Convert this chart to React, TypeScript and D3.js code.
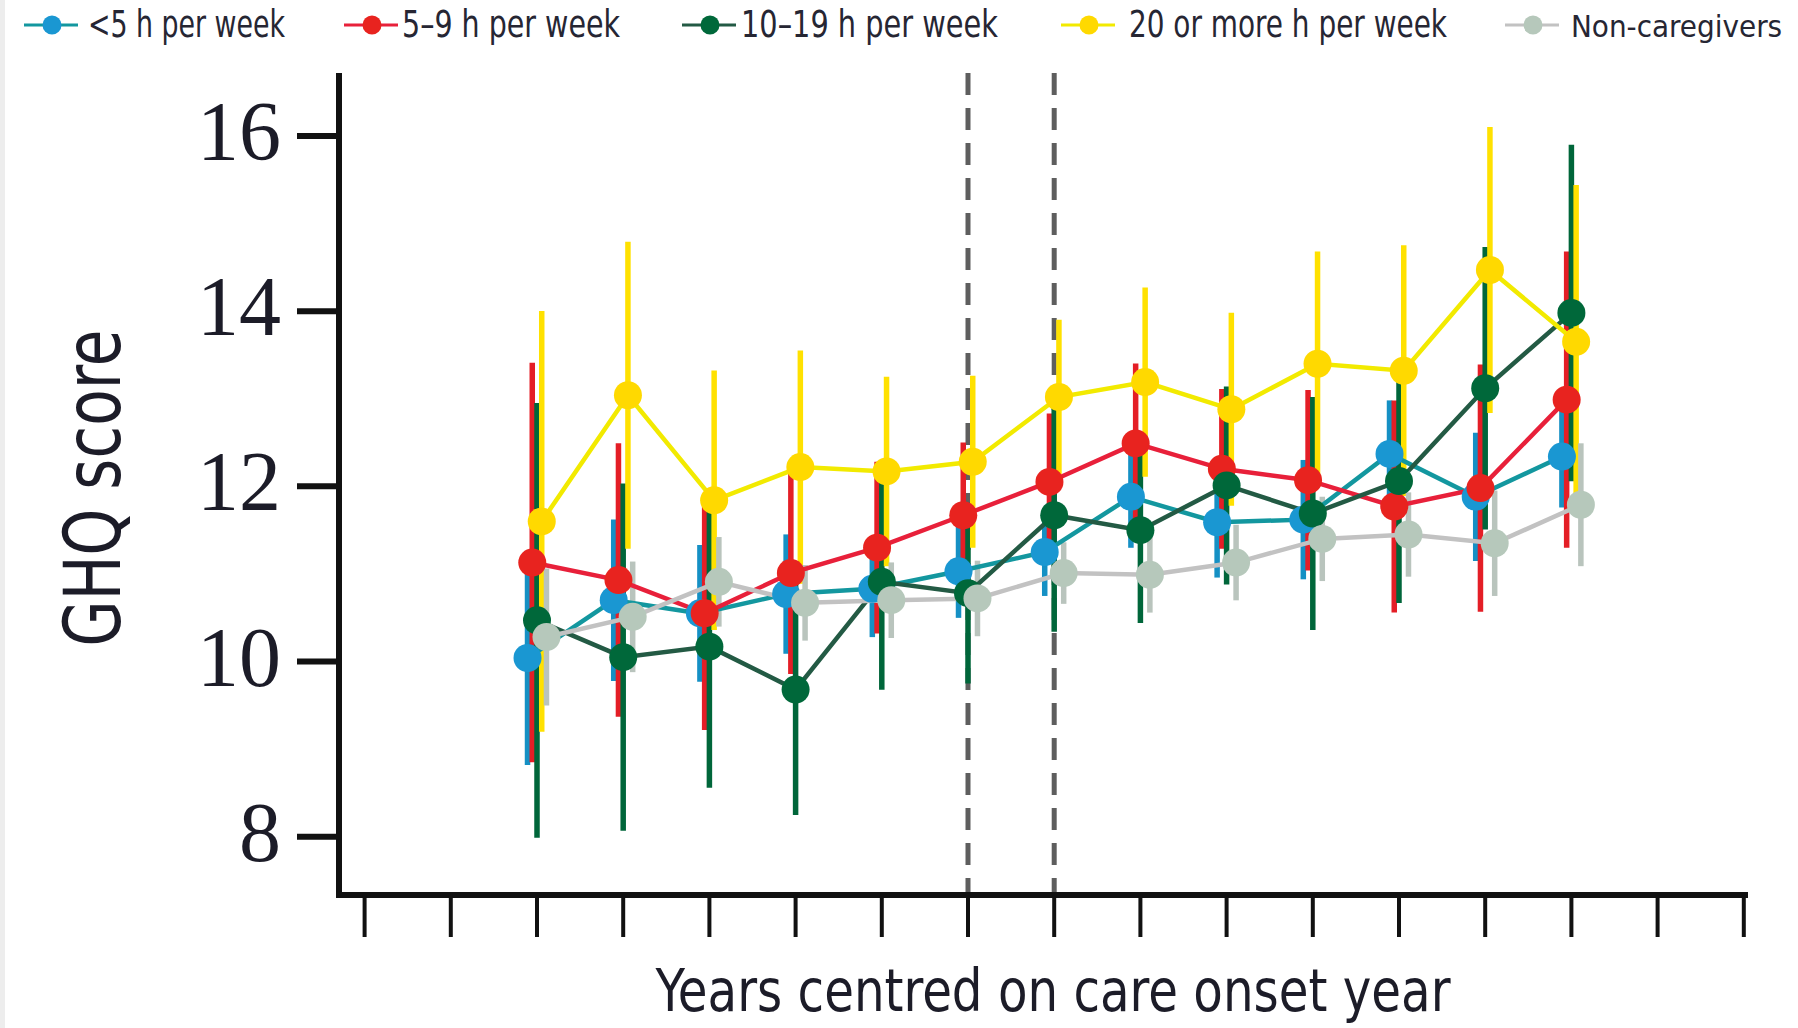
import React from 'react';
import * as d3 from 'd3';

const years = [-6, -5, -4, -3, -2, -1, 0, 1, 2, 3, 4, 5, 6];
const axisYears = d3.range(-8, 9);
const yTicks = [8, 10, 12, 14, 16];
const onsetLines = [-1, 0];

const seriesNames = ['<5 h per week', '5–9 h per week', '10–19 h per week', '20 or more h per week', 'Non-caregivers'];

const lt5Mean = [10.04, 10.7, 10.55, 10.77, 10.83, 11.03, 11.25, 11.88, 11.59, 11.62, 12.37, 11.88, 12.34];
const lt5Ci = [1.19, 0.89, 0.75, 0.65, 0.52, 0.5, 0.47, 0.55, 0.6, 0.65, 0.58, 0.7, 0.55];

const h5to9Mean = [11.13, 10.93, 10.55, 11.01, 11.3, 11.67, 12.05, 12.49, 12.2, 12.07, 11.77, 11.98, 12.99];
const h5to9Ci = [2.25, 1.53, 1.3, 1.12, 0.95, 0.8, 0.75, 0.88, 0.88, 1.0, 1.18, 1.38, 1.66];

const h10to19Mean = [10.47, 10.05, 10.17, 9.68, 10.91, 10.78, 11.67, 11.5, 12.01, 11.69, 12.06, 13.12, 13.98];
const h10to19Ci = [2.45, 1.95, 1.58, 1.4, 1.2, 1.0, 1.3, 1.03, 1.1, 1.3, 1.36, 1.58, 1.89];

const h20Mean = [11.6, 13.04, 11.84, 12.22, 12.17, 12.28, 13.02, 13.19, 12.88, 13.4, 13.32, 14.47, 13.65];
const h20Ci = [2.37, 1.72, 1.45, 1.3, 1.05, 0.95, 0.85, 1.05, 1.07, 1.25, 1.4, 1.6, 1.76];

const nonCareMean = [10.28, 10.51, 10.91, 10.67, 10.7, 10.72, 11.01, 10.99, 11.13, 11.4, 11.45, 11.35, 11.79];
const nonCareCi = [0.75, 0.6, 0.48, 0.4, 0.4, 0.4, 0.32, 0.4, 0.4, 0.45, 0.45, 0.57, 0.67];

const means = [lt5Mean, h5to9Mean, h10to19Mean, h20Mean, nonCareMean];
const cis = [lt5Ci, h5to9Ci, h10to19Ci, h20Ci, nonCareCi];

const dotColors = ['#1a97d2', '#e8231f', '#00683a', '#ffd900', '#b6c8bb'];
const barColors = ['#1590c4', '#e41e26', '#00663a', '#ffe100', '#b9c4bd'];
const lineColors = ['#13979f', '#e8203a', '#235a44', '#f2ea00', '#c2c2c2'];
const dodge = [-0.11, -0.055, 0, 0.055, 0.11];

const legendDotX = [52, 372, 710, 1089, 1533];
const legendTextX = [88, 402, 741, 1129, 1571];
const legendTextW = [197, 218, 257, 318, 0];
const legendFont = [37, 37, 37, 37, 31];

const W = 1798;
const H = 1028;

export default function App() {
  const x = d3.scaleLinear().domain([-8, 8]).range([364.6, 1743.8]);
  const y = d3.scaleLinear().domain([8, 16]).range([836.7, 136]);
  const axisX = 339;
  const axisY = 895;
  const line = d3
    .line<[number, number]>()
    .x((d) => d[0])
    .y((d) => d[1]);

  const narrow = "'Liberation Sans Narrow', 'Arial Narrow', 'DejaVu Sans Condensed', sans-serif";

  return (
    <svg
      width={W}
      height={H}
      viewBox={`0 0 ${W} ${H}`}
      style={{ position: 'absolute', left: 0, top: 0, background: '#fff' }}
    >
      <rect x={0} y={0} width={W} height={H} fill="#fff" />
      <rect x={0} y={0} width={5} height={H} fill="#ededed" />

      {/* legend */}
      {seriesNames.map((name, i) => (
        <g key={name}>
          <line x1={legendDotX[i] - 28} x2={legendDotX[i] + 26} y1={25} y2={25} stroke={lineColors[i]} strokeWidth={3} />
          <circle cx={legendDotX[i]} cy={25} r={9.5} fill={dotColors[i]} />
          <text
            x={legendTextX[i]}
            y={37}
            fontFamily={narrow}
            fontSize={legendFont[i]}
            fill="#262633"
            textLength={legendTextW[i] > 0 ? legendTextW[i] : undefined}
            lengthAdjust={legendTextW[i] > 0 ? 'spacingAndGlyphs' : undefined}
          >
            {name}
          </text>
        </g>
      ))}

      {/* onset dashed lines */}
      {onsetLines.map((v) => (
        <line
          key={v}
          x1={x(v)}
          x2={x(v)}
          y1={73}
          y2={axisY}
          stroke="#5e5e5e"
          strokeWidth={5}
          strokeDasharray="22 13"
        />
      ))}

      {/* error bars */}
      {means.map((m, s) =>
        m.map((v, i) => (
          <line
            key={`e${s}-${i}`}
            x1={x(years[i] + dodge[s])}
            x2={x(years[i] + dodge[s])}
            y1={y(v - cis[s][i])}
            y2={y(v + cis[s][i])}
            stroke={barColors[s]}
            strokeWidth={5.5}
            strokeLinecap="square"
          />
        ))
      )}

      {/* connecting lines */}
      {means.map((m, s) => (
        <path
          key={`l${s}`}
          d={line(m.map((v, i) => [x(years[i] + dodge[s]), y(v)] as [number, number])) || ''}
          fill="none"
          stroke={lineColors[s]}
          strokeWidth={4.5}
        />
      ))}

      {/* dots */}
      {means.map((m, s) =>
        m.map((v, i) => (
          <circle key={`d${s}-${i}`} cx={x(years[i] + dodge[s])} cy={y(v)} r={14} fill={dotColors[s]} />
        ))
      )}

      {/* y axis */}
      <line x1={axisX} x2={axisX} y1={73} y2={axisY + 3} stroke="#111" strokeWidth={6} />
      {yTicks.map((t) => (
        <g key={t}>
          <line x1={297} x2={axisX} y1={y(t)} y2={y(t)} stroke="#111" strokeWidth={6} />
          <text
            x={281}
            y={y(t) + 24}
            textAnchor="end"
            fontFamily="'Liberation Serif', 'DejaVu Serif', serif"
            fontSize={84}
            fill="#1c1c28"
          >
            {t}
          </text>
        </g>
      ))}

      {/* x axis */}
      <line x1={axisX - 3} x2={1748} y1={axisY} y2={axisY} stroke="#111" strokeWidth={6} />
      {axisYears.map((t) => (
        <line key={t} x1={x(t)} x2={x(t)} y1={axisY} y2={937} stroke="#111" strokeWidth={4} />
      ))}

      {/* axis titles */}
      <text
        x={1053}
        y={1011}
        textAnchor="middle"
        fontFamily={narrow}
        fontSize={58}
        fill="#1c1c28"
        textLength={795}
        lengthAdjust="spacingAndGlyphs"
      >
        Years centred on care onset year
      </text>
      <text
        transform={`translate(120, 488) rotate(-90)`}
        textAnchor="middle"
        fontFamily="'DejaVu Sans', sans-serif"
        fontSize={78}
        fill="#1c1c28"
        textLength={317}
        lengthAdjust="spacingAndGlyphs"
      >
        GHQ score
      </text>
    </svg>
  );
}
